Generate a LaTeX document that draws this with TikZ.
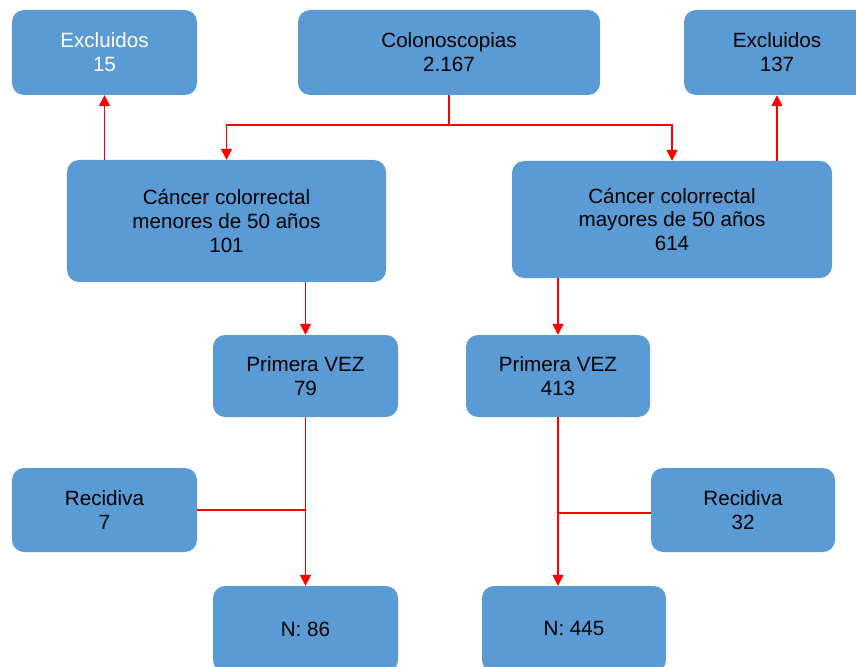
\documentclass[tikz,border=0pt]{standalone}
\usepackage{fontspec}
\setmainfont{Liberation Sans}
\usetikzlibrary{arrows.meta}
\definecolor{boxblue}{HTML}{5B9BD5}
\definecolor{linered}{HTML}{FF0000}
\begin{document}
\begin{tikzpicture}[x=1bp,y=-1bp,
  blk/.style={fill=boxblue,draw=none,rounded corners=12bp,inner sep=0pt,align=center,
    font=\fontsize{20.7}{24}\selectfont,text=black},
  conn/.style={draw=linered,line width=1.5bp},
  arr/.style={conn,-{Triangle[width=11bp,length=11bp]}}]
\useasboundingbox (0,0) rectangle (856,667);
\node[blk,minimum width=185bp,minimum height=85bp,text=white] (ex1) at (104.5,52.5) {Excluidos\\15};
\node[blk,minimum width=302bp,minimum height=85bp] (col) at (449,52.5) {Colonoscopias\\2.167};
\node[blk,minimum width=186bp,minimum height=85bp] (ex2) at (777,52.5) {Excluidos\\137};
\node[blk,minimum width=319bp,minimum height=122bp] (cl) at (226.5,221) {Cáncer colorrectal\\menores de 50 años\\101};
\node[blk,minimum width=320bp,minimum height=117bp] (cr) at (672,219.5) {Cáncer colorrectal\\mayores de 50 años\\614};
\node[blk,minimum width=185bp,minimum height=82bp] (pl) at (305.5,376) {Primera VEZ\\79};
\node[blk,minimum width=184bp,minimum height=82bp] (pr) at (558,376) {Primera VEZ\\413};
\node[blk,minimum width=185bp,minimum height=84bp] (rl) at (104.5,510) {Recidiva\\7};
\node[blk,minimum width=184bp,minimum height=84bp] (rr) at (743,510) {Recidiva\\32};
\node[blk,minimum width=185bp,minimum height=86bp] (nl) at (305.5,629) {N: 86};
\node[blk,minimum width=184bp,minimum height=86bp] (nr) at (574,629) {N: 445};
\coordinate (split) at (449,125);
\coordinate (jl) at (305,510);
\coordinate (jr) at (558,513);
\draw[conn] (col.south) -- (split);
\draw[arr] (split) -| (cl.north);
\draw[arr] (split) -| (cr.north);
\draw[arr] (cl.north -| ex1.south) -- (ex1.south);
\draw[arr] (cr.north -| ex2.south) -- (ex2.south);
\draw[arr] (cl.south -| pl.north) -- (pl.north);
\draw[arr] (cr.south -| pr.north) -- (pr.north);
\draw[arr] (pl.south) -- (nl.north);
\draw[conn] (rl.east |- jl) -- (jl);
\draw[arr] (pr.south) -- (pr.south |- nr.north);
\draw[conn] (rr.west |- jr) -- (jr);
\end{tikzpicture}
\end{document}
